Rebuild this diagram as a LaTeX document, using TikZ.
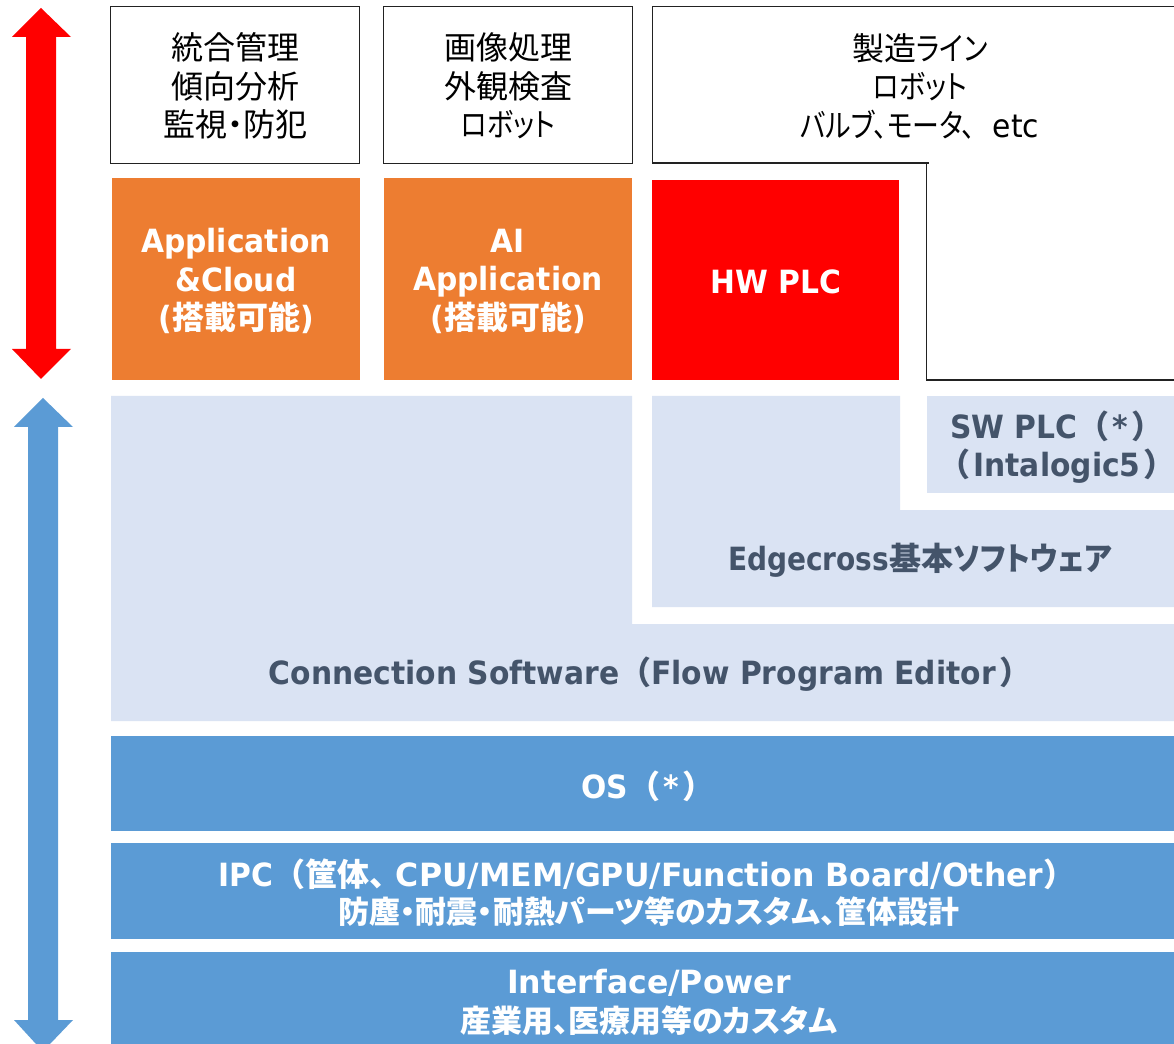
\documentclass[tikz,border=0pt]{standalone}
\usepackage{fontspec}
\setmainfont{Noto Sans CJK JP}[RawFeature={+palt}]
\newfontfamily\latinr{DejaVu Sans}[FakeStretch=0.93]
\newfontfamily\latinw{DejaVu Sans}[FakeStretch=0.985]
\newfontfamily\latinn{DejaVu Sans}[FakeStretch=0.875]
\newfontfamily\fwfont{Noto Sans CJK JP}
\newfontfamily\kanafont{Noto Sans CJK JP}[RawFeature={+palt},FakeStretch=0.84]
\newfontfamily\kanabold{Noto Sans CJK JP}[RawFeature={+palt},FakeStretch=0.92]
\newcommand{\Ltn}[1]{{\latinr\bfseries #1}}
\newcommand{\LtnW}[1]{{\latinw\bfseries #1}}
\newcommand{\LtnN}[1]{{\latinn\bfseries #1}}
\newcommand{\Fw}[1]{{\fwfont\bfseries #1}}
\newcommand{\Kn}[1]{{\kanafont #1}}
\newcommand{\Kb}[1]{{\kanabold\bfseries #1}}
\definecolor{myorange}{HTML}{ED7D31}
\definecolor{myblue}{HTML}{5B9BD5}
\definecolor{mypale}{HTML}{DAE3F3}
\definecolor{myslate}{HTML}{44546A}
\definecolor{myline}{HTML}{222222}
\tikzset{
  x=0.75pt,y=-0.75pt,
  topbox/.style={draw=myline,line width=1pt,fill=white},
  toptext/.style={font=\fontsize{24}{28.9}\selectfont,align=center,text=black,inner sep=0pt},
  boldtext/.style={font=\fontsize{24}{28.9}\selectfont\bfseries,align=center,inner sep=0pt},
  subtext/.style={font=\fontsize{23.2}{28}\selectfont\bfseries,align=center,inner sep=0pt},
  whitetext/.style={boldtext,text=white},
  slatetext/.style={boldtext,text=myslate}
}
\begin{document}
\begin{tikzpicture}
\useasboundingbox (0,0) rectangle (1174,1044);
% top boxes
\draw[topbox] (110.5,6.5) rectangle (359.5,163.5);
\draw[topbox] (383.5,6.5) rectangle (632.5,163.5);
\draw[topbox,fill=none] (1180,6.5) -- (652.5,6.5) -- (652.5,163) -- (929,163);
\draw[topbox,fill=none] (926.5,163) -- (926.5,380) -- (1180,380);
\node[toptext] (t1) at (235,86) {統合管理\\傾向分析\\監視・防犯};
\node[toptext] (t2) at (508,86) {画像処理\\外観検査\\\Kn{ロボット}};
\node[toptext] (t3) at (920,86) {製造\Kn{ライン}\\\Kn{ロボット}\\\Kn{バルブ、モータ、}\kern13pt{\latinr etc}};
% orange and red
\fill[myorange] (112,178) rectangle (360,380);
\fill[myorange] (384,178) rectangle (632,380);
\fill[red] (652,180) rectangle (899,380);
\node[whitetext] (a1) at (236,281) {\Ltn{Application}\\\Ltn{\&Cloud}\\\Ltn{(}搭載可能\Ltn{)}};
\node[whitetext] (a2) at (508,281) {\Ltn{AI}\\\Ltn{Application}\\\Ltn{(}搭載可能\Ltn{)}};
\node[whitetext] (a3) at (776,282) {\Ltn{HW PLC}};
% pale regions
\fill[mypale] (111,396) -- (632,396) -- (632,624) -- (1174,624) -- (1174,721) -- (111,721) -- cycle;
\fill[mypale] (652,396) -- (900,396) -- (900,510) -- (1174,510) -- (1174,607) -- (652,607) -- cycle;
\fill[mypale] (927,396) rectangle (1174,493);
\node[slatetext] (s1) at (1057,447) {\Ltn{SW PLC}\Fw{（}\kern2.5pt\Ltn{*}\kern2.5pt\Fw{）}\\\Fw{（}\kern2.5pt\Ltn{Intalogic5}\kern2.5pt\Fw{）}};
\node[slatetext] (s2) at (920,560) {\LtnN{Edgecross}基本\Kb{ソフトウェア}};
\node[slatetext] (s3) at (650,674) {\Ltn{Connection Software}\Fw{（}\Ltn{Flow Program Editor}\kern2.5pt\Fw{）}};
% blue bands
\fill[myblue] (111,736) rectangle (1174,831);
\fill[myblue] (111,843) rectangle (1174,939);
\fill[myblue] (111,952) rectangle (1174,1044);
\node[whitetext] (b1) at (648,786) {\Ltn{OS}\Fw{（}\kern2.5pt\Ltn{*}\kern2.5pt\Fw{）}};
\node[whitetext] (b2) at (647,874) {\Ltn{IPC}\Fw{（}筐体、\kern8pt\LtnW{CPU/MEM/GPU/Function Board/Other}\Fw{）}};
\node[subtext,text=white] (b3) at (649,912) {防塵・耐震・耐熱パーツ等のカスタム、筐体設計};
\node[whitetext] (b4) at (649,983) {\LtnW{Interface/Power}};
\node[subtext,text=white] (b5) at (649,1021) {産業用、医療用等のカスタム};
% arrows
\fill[red] (41,8) -- (71,37) -- (56,37) -- (56,349) -- (71,349) -- (41,379) -- (12,349) -- (26,349) -- (26,37) -- (12,37) -- cycle;
\fill[myblue] (43,398) -- (73,427) -- (58,427) -- (58,1020) -- (73,1020) -- (50,1044) -- (36,1044) -- (14,1020) -- (28,1020) -- (28,427) -- (14,427) -- cycle;
\end{tikzpicture}
\end{document}
